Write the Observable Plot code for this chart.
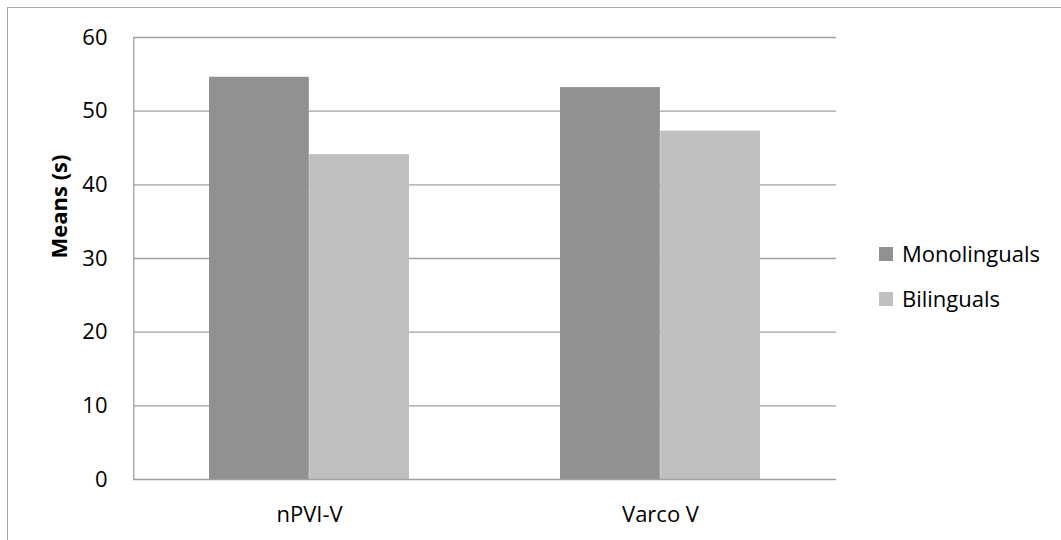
<!DOCTYPE html>
<html>
<head>
<meta charset="utf-8">
<script src="https://cdn.jsdelivr.net/npm/d3@7"></script>
<script src="https://cdn.jsdelivr.net/npm/@observablehq/plot@0.6"></script>
<style>
  html, body { margin: 0; padding: 0; background: #fff; }
  #wrap { position: relative; width: 1061px; height: 540px; overflow: hidden; font-family: "Open Sans", "Noto Sans", sans-serif; }
  #border { position: absolute; left: 7px; top: 7px; width: 1070px; height: 560px; border: 1px solid #a6a6a6; box-sizing: border-box; }
  #chart { position: absolute; left: 0; top: 0; }
  #legend { position: absolute; left: 879px; top: 230px; font-size: 22px; color: #000; }
  .item { display: flex; align-items: center; height: 45px; }
  .sw { width: 14px; height: 14px; margin-right: 9px; margin-top: 2px; }
</style>
</head>
<body>
<div id="wrap">
  <div id="border"></div>
  <div id="chart"></div>
  <div id="legend"></div>
</div>
<script>
const categories = ["nPVI-V", "Varco V"];
const series = ["Monolinguals", "Bilinguals"];
const monolinguals = [54.6, 53.2];
const bilinguals = [44.1, 47.3];
const yTicks = [0, 10, 20, 30, 40, 50, 60];
const colors = ["#919191", "#bfbfbf"];

const data = [];
categories.forEach((c, i) => {
  data.push({category: c, series: series[0], value: monolinguals[i]});
  data.push({category: c, series: series[1], value: bilinguals[i]});
});

const W = 1061, H = 540;
const mL = 133, mR = 225, mT = 37, mB = 61;
const padInner = 0.43;
const step = (W - mL - mR) / categories.length;
const half = step * (1 - padInner) / 2;

const chart = Plot.plot({
  width: W,
  height: H,
  marginLeft: mL,
  marginRight: mR,
  marginTop: mT,
  marginBottom: mB,
  style: {fontFamily: "'Open Sans', 'Noto Sans', sans-serif", fontSize: "22px", color: "#000", background: "transparent"},
  x: {domain: categories, paddingInner: padInner, paddingOuter: padInner / 2, label: null},
  y: {domain: [0, 60], ticks: yTicks, label: null},
  color: {domain: series, range: colors},
  marks: [
    Plot.ruleY(yTicks.filter(d => d > 0), {stroke: "#a0a0a0", strokeWidth: 1.3}),
    Plot.barY(data.filter(d => d.series === series[0]), {x: "category", y: "value", fill: "series", insetRight: half}),
    Plot.barY(data.filter(d => d.series === series[1]), {x: "category", y: "value", fill: "series", insetLeft: half}),
    Plot.ruleX([categories[0]], {x: d => d, dx: -step / 2, stroke: "#a0a0a0", strokeWidth: 1.3, y1: 0, y2: 60}),
    Plot.ruleY([0], {stroke: "#a0a0a0", strokeWidth: 1.3}),
    Plot.axisY({ticks: yTicks, tickSize: 0, tickPadding: 26}),
    Plot.axisX({tickSize: 0, tickPadding: 27}),
    Plot.text(["Means (s)"], {frameAnchor: "left", dx: -74, rotate: -90, fontWeight: "bold"})
  ]
});
document.getElementById("chart").appendChild(chart);

const legend = document.getElementById("legend");
series.forEach((s, i) => {
  const item = document.createElement("div");
  item.className = "item";
  const sw = document.createElement("div");
  sw.className = "sw";
  sw.style.background = colors[i];
  const t = document.createElement("span");
  t.textContent = s;
  item.appendChild(sw);
  item.appendChild(t);
  legend.appendChild(item);
});
</script>
</body>
</html>
